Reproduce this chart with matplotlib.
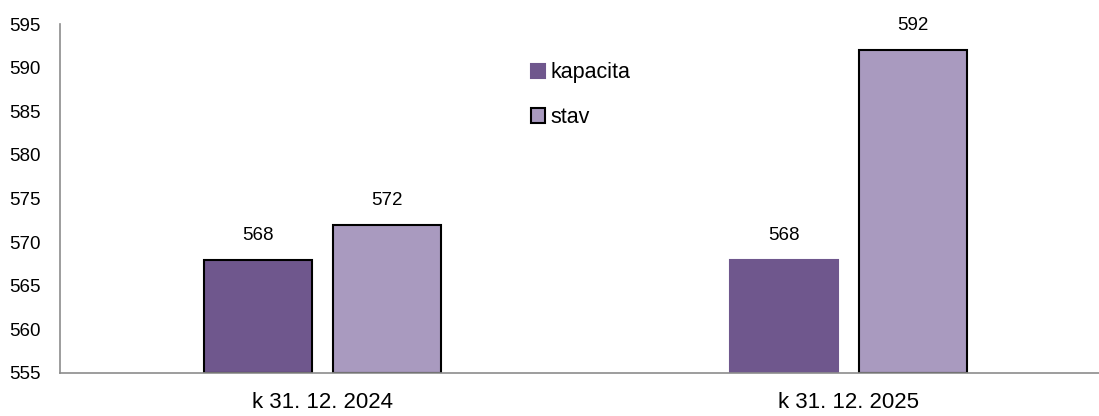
import matplotlib
matplotlib.use('Agg')
from matplotlib import pyplot as plt
import numpy as np

plt.rcParams['font.family'] = ['Liberation Sans', 'DejaVu Sans']

categories = ['k 31. 12. 2024', 'k 31. 12. 2025']
kapacita = [568, 568]
stav = [572, 592]

fig = plt.figure(figsize=(10.99, 4.16), dpi=100)
ax = fig.add_axes([0.0546, 0.1034, 0.9454, 0.8389])

x = np.arange(len(categories))
w = 0.205
off = 0.1226

# first kapacita bar has a black edge, second one does not
b1 = ax.bar(x - off, np.array(kapacita) - 555, w, bottom=555, color='#6f578d',
            edgecolor=['black', '#6f578d'], linewidth=1.5, label='kapacita')
b2 = ax.bar(x + off, np.array(stav) - 555, w, bottom=555, color='#a99abf',
            edgecolor='black', linewidth=1.5, label='stav')

for xi, v in zip(x - off, kapacita):
    ax.text(xi, v + 1.8, str(v), ha='center', va='bottom', fontsize=13.5)
for xi, v in zip(x + off, stav):
    ax.text(xi, v + 1.8, str(v), ha='center', va='bottom', fontsize=13.5)

ax.set_ylim(555, 595)
ax.set_xlim(-0.499, 1.476)
ax.set_yticks(range(555, 596, 5))
ax.set_xticks(x)
ax.set_xticklabels(categories)
ax.tick_params(axis='both', length=0)
ax.tick_params(axis='x', pad=14, labelsize=16)
ax.tick_params(axis='y', pad=14, labelsize=13.5)

for s in ['top', 'right']:
    ax.spines[s].set_visible(False)
for s in ['left', 'bottom']:
    ax.spines[s].set_color('#8c8c8c')
    ax.spines[s].set_linewidth(1.2)

leg = ax.legend(handles=[b1[1], b2[0]], labels=['kapacita', 'stav'],
                loc='upper left', bbox_to_anchor=(0.445, 0.915), frameon=False,
                fontsize=15.5, handlelength=0.65, handleheight=0.65,
                handletextpad=0.25, labelspacing=1.1, borderaxespad=0)

fig.savefig('out.png', dpi=100)
